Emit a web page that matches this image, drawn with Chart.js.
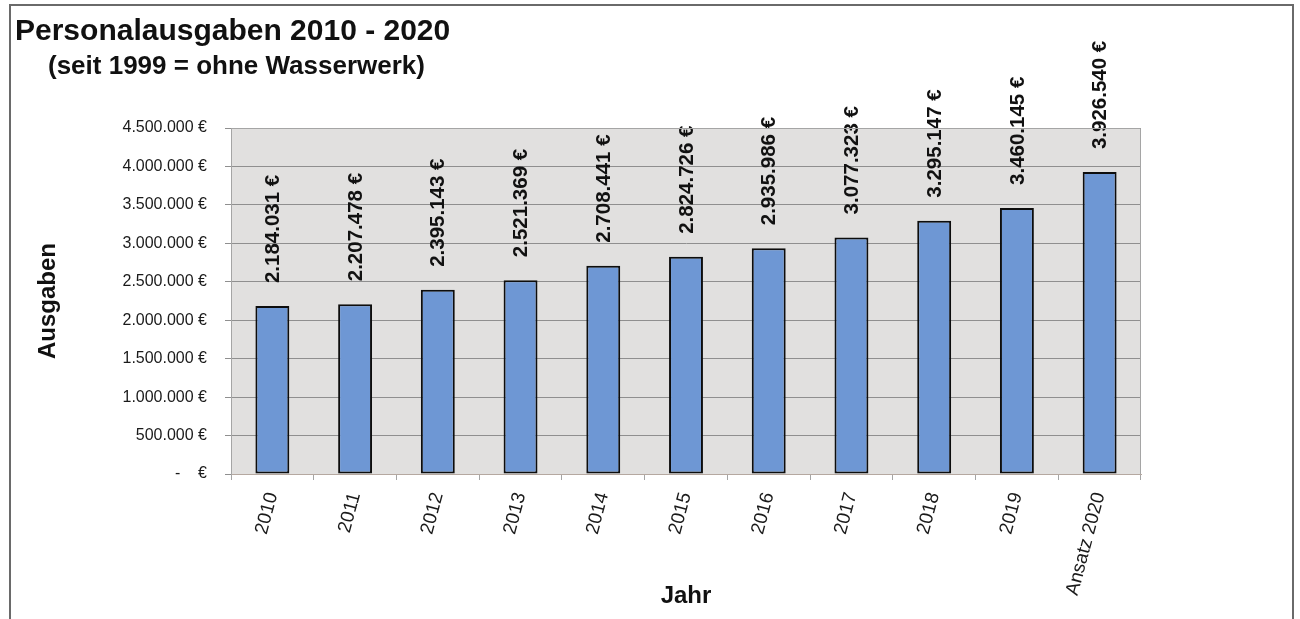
<!DOCTYPE html>
<html>
<head>
<meta charset="utf-8">
<script src="https://cdn.jsdelivr.net/npm/chart.js@4/dist/chart.umd.min.js"></script>
<style>
  html, body { margin: 0; padding: 0; background: #ffffff; }
  #wrap { position: relative; width: 1300px; height: 619px; }
  canvas { display: block; }
</style>
</head>
<body>
<div id="wrap"><canvas id="c" width="1300" height="619"></canvas></div>
<script>
const categories = ['2010', '2011', '2012', '2013', '2014', '2015', '2016', '2017', '2018', '2019', 'Ansatz 2020'];
const ausgaben = [2184031, 2207478, 2395143, 2521369, 2708441, 2824726, 2935986, 3077323, 3295147, 3460145, 3926540];
const yMin = 0;
const yMax = 4500000;
const yStep = 500000;
const titleText = 'Personalausgaben 2010 - 2020';
const subtitleText = '(seit 1999 = ohne Wasserwerk)';
const xTitle = 'Jahr';
const yTitle = 'Ausgaben';

const FONT = "'Liberation Sans', Arial, sans-serif";
Chart.defaults.font.family = FONT;
Chart.defaults.color = '#1a1a1a';

const fmt = v => v.toLocaleString('de-DE') + ' €';

const decor = {
  id: 'decor',
  beforeDraw(chart) {
    const ctx = chart.ctx;
    const a = chart.chartArea;
    ctx.save();
    ctx.fillStyle = '#ffffff';
    ctx.fillRect(0, 0, chart.width, chart.height);
    // outer frame
    ctx.strokeStyle = '#6a6a6a';
    ctx.lineWidth = 2;
    ctx.strokeRect(10, 5, 1283, 700);
    // plot background
    ctx.fillStyle = '#e1e0df';
    ctx.fillRect(a.left, a.top, a.right - a.left, a.bottom - a.top);
    ctx.restore();
  },
  afterDraw(chart) {
    const ctx = chart.ctx;
    const a = chart.chartArea;
    ctx.save();
    ctx.strokeStyle = '#a5a5a5';
    ctx.lineWidth = 1;
    ctx.beginPath();
    ctx.moveTo(a.left, a.top + 0.5);
    ctx.lineTo(a.right - 0.5, a.top + 0.5);
    ctx.lineTo(a.right - 0.5, a.bottom);
    ctx.stroke();
    // titles
    ctx.fillStyle = '#111111';
    ctx.textAlign = 'left';
    ctx.textBaseline = 'alphabetic';
    ctx.font = "bold 30px " + FONT;
    ctx.fillText(titleText, 15, 40);
    ctx.font = "bold 26px " + FONT;
    ctx.fillText(subtitleText, 48, 74);
    ctx.restore();
  },
  afterDatasetsDraw(chart) {
    const ctx = chart.ctx;
    const meta = chart.getDatasetMeta(0);
    ctx.save();
    ctx.fillStyle = '#111111';
    ctx.font = "bold 20.5px " + FONT;
    ctx.textAlign = 'left';
    ctx.textBaseline = 'middle';
    meta.data.forEach((bar, i) => {
      ctx.save();
      ctx.translate(bar.x + 1, bar.y - 23);
      ctx.rotate(-Math.PI / 2);
      ctx.fillText(fmt(ausgaben[i]), 0, 0);
      ctx.restore();
    });
    ctx.restore();
  }
};

new Chart(document.getElementById('c'), {
  type: 'bar',
  data: {
    labels: categories,
    datasets: [{
      data: ausgaben,
      backgroundColor: '#6e97d4',
      borderColor: '#0d0d0d',
      borderWidth: 2,
      borderSkipped: false,
      categoryPercentage: 1,
      barPercentage: 0.41
    }]
  },
  options: {
    responsive: false,
    animation: false,
    devicePixelRatio: 1,
    layout: { padding: { top: 128, right: 159, left: 0, bottom: 0 } },
    plugins: { legend: { display: false }, tooltip: { enabled: false }, title: { display: false } },
    scales: {
      x: {
        offset: true,
        afterFit(scale) { scale.height = 145; },
        grid: { display: true, drawOnChartArea: false, drawTicks: true, tickLength: 6, color: '#a5a5a5', offset: true },
        border: { display: true, color: '#b5a8a0', width: 1 },
        ticks: { minRotation: 75, maxRotation: 75, autoSkip: false, padding: 10, font: { size: 19 }, color: '#1a1a1a' },
        title: { display: true, text: xTitle, font: { size: 24, weight: 'bold' }, color: '#111111', padding: { top: 0, bottom: 8 } }
      },
      y: {
        min: yMin,
        max: yMax,
        afterFit(scale) { scale.width = 231; },
        grid: { color: '#8f8f8f', lineWidth: 1, tickLength: 6, drawTicks: true },
        border: { display: true, color: '#a5a5a5', width: 1 },
        ticks: {
          stepSize: yStep,
          padding: 18,
          font: { size: 16 },
          color: '#1a1a1a',
          callback: v => v === 0 ? '-    €' : fmt(v)
        },
        title: { display: true, text: yTitle, font: { size: 24, weight: 'bold' }, color: '#111111', padding: { top: 34, bottom: 0 } }
      }
    }
  },
  plugins: [decor]
});
</script>
</body>
</html>
